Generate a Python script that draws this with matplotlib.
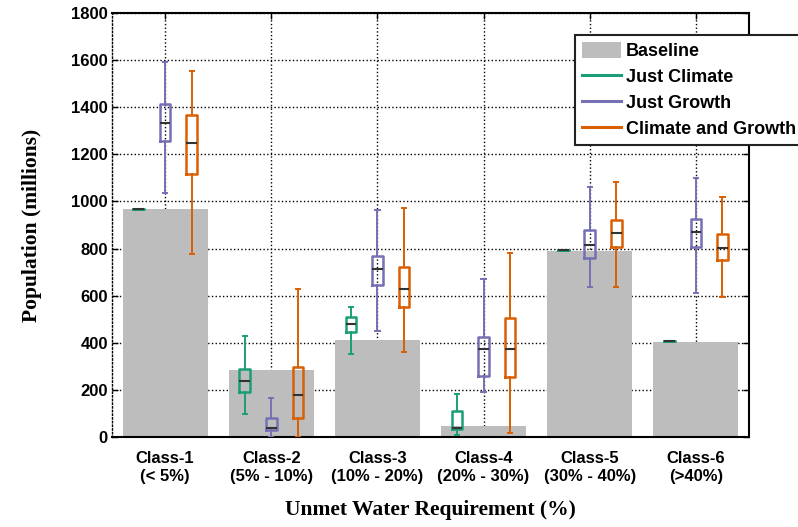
import matplotlib.pyplot as plt
import numpy as np
from matplotlib.patches import Patch
from matplotlib.lines import Line2D

classes = ['Class-1\n(< 5%)', 'Class-2\n(5% - 10%)', 'Class-3\n(10% - 20%)',
           'Class-4\n(20% - 30%)', 'Class-5\n(30% - 40%)', 'Class-6\n(>40%)']
baseline = [966, 284, 412, 47, 791, 404]

# box stats per class: whisker low, q1, median, q3, whisker high
just_climate = [
    (968, 968, 968, 968, 968),
    (96, 192, 238, 287, 430),
    (352, 444, 480, 508, 551),
    (8, 33, 37, 110, 181),
    (794, 794, 794, 794, 794),
    (407, 407, 407, 407, 407),
]
just_growth = [
    (1034, 1256, 1334, 1413, 1593),
    (2, 28, 37, 82, 167),
    (450, 645, 712, 770, 963),
    (192, 259, 372, 423, 669),
    (638, 758, 814, 879, 1062),
    (610, 805, 869, 924, 1098),
]
climate_growth = [
    (777, 1115, 1249, 1367, 1555),
    (0, 79, 178, 296, 630),
    (362, 553, 627, 720, 973),
    (18, 256, 372, 506, 780),
    (638, 805, 867, 921, 1084),
    (595, 751, 801, 860, 1017),
]

series = [('Just Climate', just_climate, '#1b9e77', -0.25),
          ('Just Growth', just_growth, '#7570b3', 0.0),
          ('Climate and Growth', climate_growth, '#d95f02', 0.25)]

fig = plt.figure(figsize=(7.98, 5.27), dpi=100)
ax = fig.add_axes([0.1404, 0.1708, 0.7982, 0.8045])

x = np.arange(1, len(classes) + 1)
ax.bar(x, baseline, width=0.8, color='#bdbdbd', zorder=1)

for name, data, color, off in series:
    stats = [dict(whislo=d[0], q1=d[1], med=d[2], q3=d[3], whishi=d[4], fliers=[])
             for d in data]
    ax.bxp(stats, positions=x + off, widths=0.1, capwidths=0.04,
           manage_ticks=False, showfliers=False,
           boxprops=dict(color=color, linewidth=1.8),
           whiskerprops=dict(color=color, linewidth=1.4),
           capprops=dict(color=color, linewidth=1.4),
           medianprops=dict(color='#333333', linewidth=1.5),
           zorder=3)

ax.set_xlim(0.5, 6.5)
ax.set_ylim(0, 1800)
ax.set_xticks(x)
ax.set_xticklabels(classes, fontsize=12, fontweight='bold', family='Liberation Sans',
                   linespacing=1.3)
ax.set_yticks(range(0, 1801, 200))
for lab in ax.get_yticklabels():
    lab.set_fontweight('bold')
    lab.set_fontsize(12)
    lab.set_family('Liberation Sans')
ax.tick_params(direction='in', top=True, right=True, length=4, width=1)
ax.tick_params(axis='x', pad=10)
ax.tick_params(axis='y', pad=3)

ax.set_axisbelow(True)
ax.grid(True, linestyle=':', color='black', linewidth=1)
for s in ax.spines.values():
    s.set_linewidth(1.5)
ax.spines['left'].set_linestyle(':')
ax.spines['left'].set_linewidth(1)

ax.set_ylabel('Population (millions)', fontsize=15.5, fontweight='bold',
              family='Liberation Serif', labelpad=21)
ax.set_xlabel('Unmet Water Requirement (%)', fontsize=15.5, fontweight='bold',
              family='Liberation Serif', labelpad=11)

handles = [Patch(facecolor='#bdbdbd', edgecolor='none')] + \
          [Line2D([0], [0], color=c, linewidth=2.2) for _, _, c, _ in series]
labels = ['Baseline'] + [n for n, _, _, _ in series]
leg = fig.legend(handles, labels, loc='upper left', bbox_to_anchor=(0.7206, 0.934),
                 prop=dict(family='Liberation Sans', weight='bold', size=13),
                 fancybox=False, edgecolor='#222222', framealpha=1,
                 handlelength=2.15, handleheight=1.0, handletextpad=0.25,
                 labelspacing=0.42, borderpad=0.4, borderaxespad=0)
leg.get_frame().set_linewidth(1.5)

fig.savefig('out.png', dpi=100)
